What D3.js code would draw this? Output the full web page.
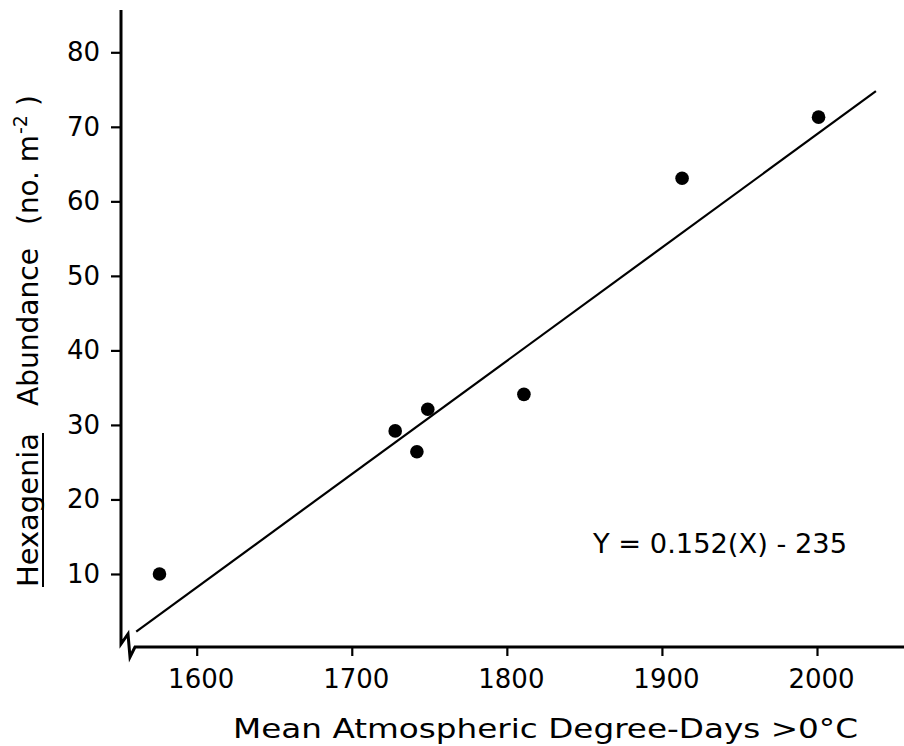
<!DOCTYPE html>
<html>
<head>
<meta charset="utf-8">
<script src="https://cdn.jsdelivr.net/npm/d3@7"></script>
<style>
  html, body { margin: 0; padding: 0; background: #fff; }
  svg { display: block; }
  text { font-family: "DejaVu Sans", sans-serif; fill: #000; }
</style>
</head>
<body>
<script>
// Observations: degree-days vs. Hexagenia abundance
const degreeDays = [1576, 1728, 1742, 1749, 1811, 1913, 2001];
const abundance  = [10.0, 29.2, 26.4, 32.1, 34.1, 63.1, 71.3];

// Fitted regression Y = 0.152(X) - 235
const slope = 0.152;
const intercept = -235;
const fitRange = [1561, 2038];

const xTicks = [1600, 1700, 1800, 1900, 2000];
const yTicks = [10, 20, 30, 40, 50, 60, 70, 80];

const W = 904, H = 746;
const svg = d3.select("body").append("svg").attr("width", W).attr("height", H);

const x = d3.scaleLinear().domain([1600, 2000]).range([196.7, 817]);
const y = d3.scaleLinear().domain([0, 80]).range([648.5, 52.3]);

const axisX0 = 121;   // y-axis position
const axisY0 = 647;   // x-axis position

// Axis lines, with the break symbol at the origin
svg.append("path")
  .attr("d", `M${axisX0},10 L${axisX0},644 L128,634 L130,657 L135,647 L${W},647`)
  .attr("fill", "none").attr("stroke", "#000").attr("stroke-width", 3)
  .attr("stroke-linejoin", "miter");

// Y axis ticks & labels
const yAxis = d3.axisLeft(y).tickValues(yTicks).tickSize(10).tickPadding(11).tickFormat(d3.format("d"));
const gy = svg.append("g").attr("transform", `translate(${axisX0},0)`).call(yAxis);
gy.select(".domain").remove();
gy.selectAll(".tick line").attr("stroke", "#000").attr("stroke-width", 2.2);
gy.selectAll(".tick text").style("font-size", "26px").attr("fill", "#000");

// X axis ticks & labels
const xAxis = d3.axisBottom(x).tickValues(xTicks).tickSize(9).tickPadding(14).tickFormat(d3.format("d"));
const gx = svg.append("g").attr("transform", `translate(0,${axisY0})`).call(xAxis);
gx.select(".domain").remove();
gx.selectAll(".tick line").attr("stroke", "#000").attr("stroke-width", 2.2);
gx.selectAll(".tick text").style("font-size", "26px").attr("fill", "#000").attr("dx", 4);

// Regression line
svg.append("line")
  .attr("x1", x(fitRange[0])).attr("y1", y(slope * fitRange[0] + intercept))
  .attr("x2", x(fitRange[1])).attr("y2", y(slope * fitRange[1] + intercept))
  .attr("stroke", "#000").attr("stroke-width", 2.2);

// Points
svg.append("g").selectAll("circle")
  .data(degreeDays.map((d, i) => [d, abundance[i]]))
  .join("circle")
  .attr("cx", d => x(d[0])).attr("cy", d => y(d[1]))
  .attr("r", 6.8).attr("fill", "#000");

// Equation
svg.append("text")
  .attr("x", 593).attr("y", 553)
  .style("font-size", "26px")
  .attr("textLength", 254).attr("lengthAdjust", "spacingAndGlyphs")
  .text("Y = 0.152(X) - 235");

// X axis title
svg.append("text")
  .attr("x", 233).attr("y", 738)
  .style("font-size", "27px")
  .attr("textLength", 625).attr("lengthAdjust", "spacingAndGlyphs")
  .text("Mean Atmospheric Degree-Days  >0°C");

// Y axis title (rotated); genus name underlined, unit with superscript
const yt = svg.append("g").attr("transform", "translate(38,587) rotate(-90)");
yt.append("text").attr("x", 0).attr("y", 0)
  .style("font-size", "28px")
  .attr("textLength", 154).attr("lengthAdjust", "spacingAndGlyphs")
  .text("Hexagenia");
yt.append("line")
  .attr("x1", 0).attr("x2", 154)
  .attr("y1", 5).attr("y2", 5)
  .attr("stroke", "#000").attr("stroke-width", 2);
yt.append("text").attr("x", 181).attr("y", 0)
  .style("font-size", "28px")
  .attr("textLength", 158).attr("lengthAdjust", "spacingAndGlyphs")
  .text("Abundance");
yt.append("text").attr("x", 362).attr("y", 0)
  .style("font-size", "28px")
  .attr("textLength", 90).attr("lengthAdjust", "spacingAndGlyphs")
  .text("(no. m");
yt.append("text").attr("x", 453).attr("y", -11)
  .style("font-size", "19px")
  .text("-2");
yt.append("text").attr("x", 481).attr("y", 0)
  .style("font-size", "28px")
  .text(")");
</script>
</body>
</html>
